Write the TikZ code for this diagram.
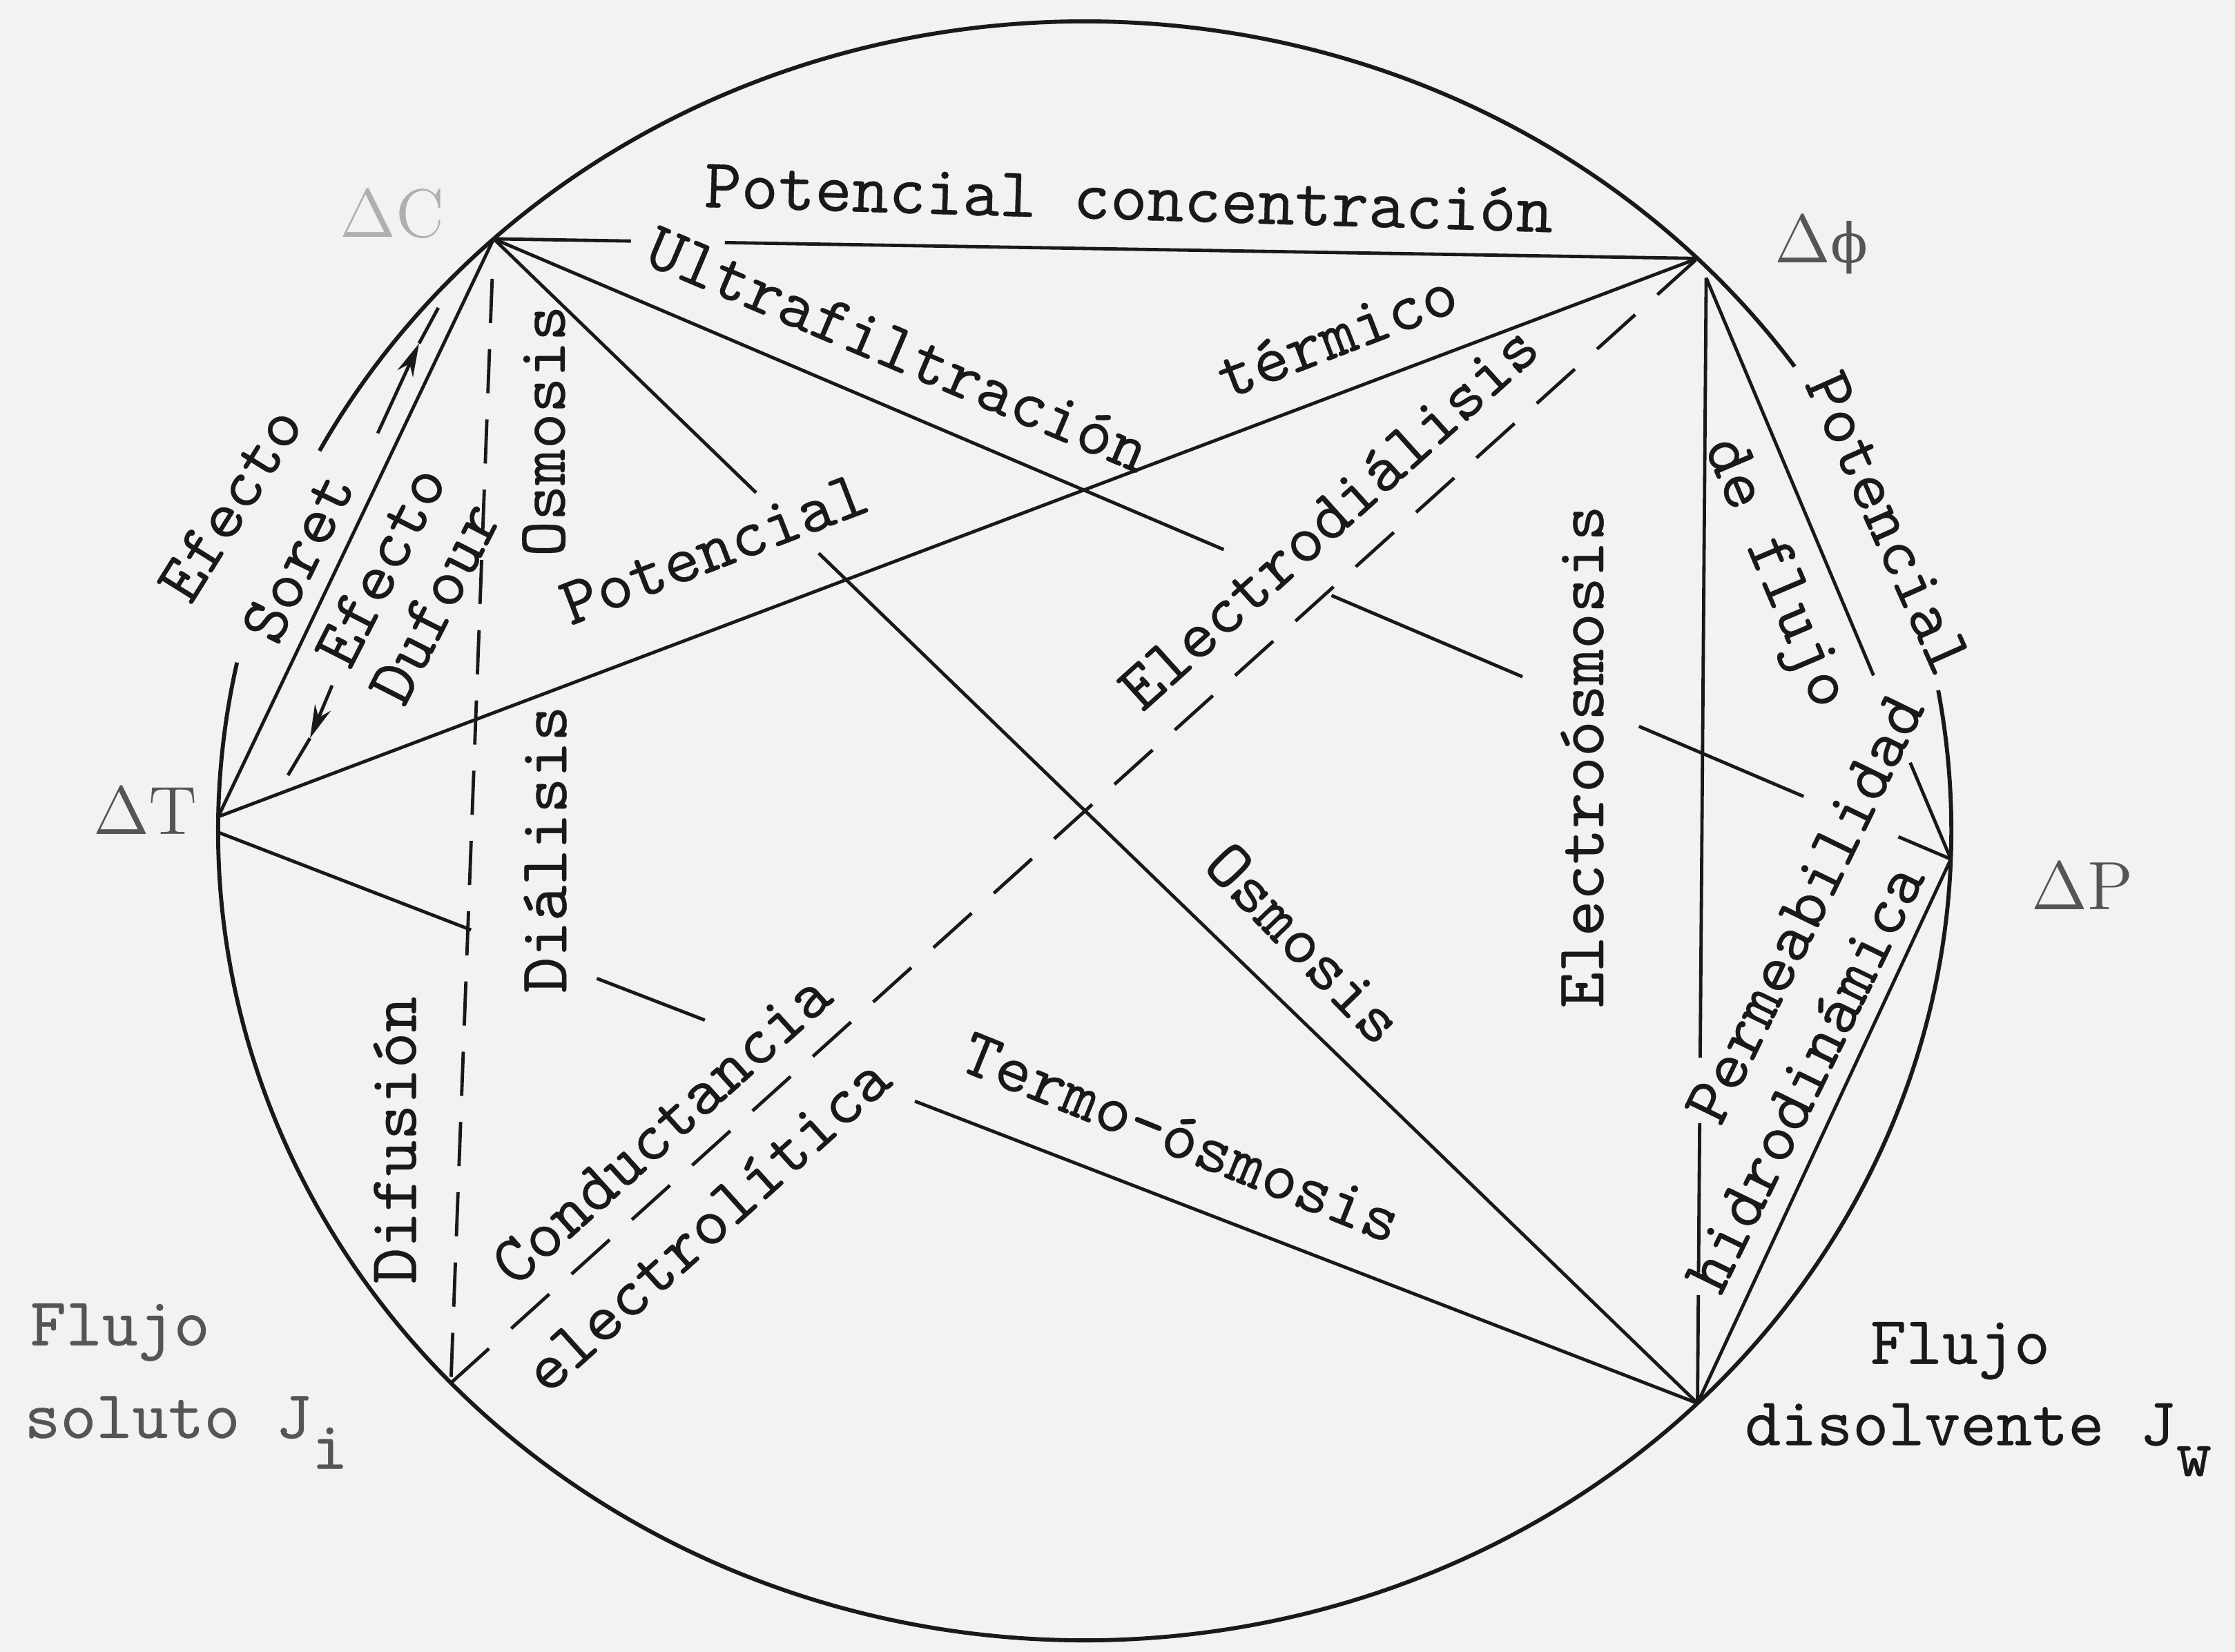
\documentclass[tikz,border=0pt]{standalone}
\usepackage{fontspec}
\usepackage{tikz}
\usetikzlibrary{calc,arrows.meta}
\newfontfamily\typew{lmmono10-regular.otf}[FakeBold=0.35]
\newfontfamily\grk{DejaVu Serif}
\definecolor{paper}{RGB}{242,242,242}
\definecolor{ink}{RGB}{25,25,25}
\definecolor{faded}{RGB}{85,85,85}
\definecolor{pale}{RGB}{175,175,175}

\begin{document}
\begin{tikzpicture}[x=0.3pt,y=0.3pt,yscale=-1,xscale=1,color=ink,line width=0.7pt,
  lbl/.style={inner sep=0pt,font=\fontsize{14.4}{16}\typew},
  vtx/.style={inner sep=0pt,text=faded,font=\fontsize{14.4}{16}\selectfont},
  dashv/.style={dash pattern=on 9.3pt off 5.5pt},
  dashd/.style={dash pattern=on 10.8pt off 6.3pt},
  tip/.style={-{Stealth[length=7pt,width=3.6pt]}}]

% paper
\fill[paper] (0,0) rectangle (1568,1159);
\useasboundingbox (0,0) rectangle (1568,1159);

% corners on the ring
\coordinate (O) at (761,583);
\coordinate (C) at ($(O)+(227:608 and 568)$);
\coordinate (F) at ($(O)+(315:608 and 568)$);
\coordinate (P) at ($(O)+(362:608 and 568)$);
\coordinate (W) at ($(O)+(45:608 and 568)$);
\coordinate (J) at ($(O)+(137:608 and 568)$);
\coordinate (T) at ($(O)+(181:608 and 568)$);
\coordinate (Tb) at (153,584);
\coordinate (Fb) at (1197,195);

%Curve Lines
\begin{scope}[line width=0.85pt]
\draw (C) arc[start angle=227,end angle=315,x radius=608,y radius=568];
\draw (F) arc[start angle=315,end angle=325,x radius=608,y radius=568];
\draw (P) arc[start angle=362,end angle=350,x radius=608,y radius=568];
\draw (P) arc[start angle=2,end angle=45,x radius=608,y radius=568];
\draw (W) arc[start angle=45,end angle=137,x radius=608,y radius=568];
\draw (J) arc[start angle=137,end angle=181,x radius=608,y radius=568];
\draw (T) arc[start angle=181,end angle=192,x radius=608,y radius=568];
\draw (C) arc[start angle=227,end angle=208,x radius=608,y radius=568];
\end{scope}

%Straight Lines
\foreach \a/\b in {0/.114,.192/1} \draw ($(C)!\a!(F)$) -- ($(C)!\b!(F)$);
\draw (C) -- (T);
\draw (T) -- (F);
\foreach \a/\b in {0/.501,.575/.706,.786/.899,.964/1} \draw ($(C)!\a!(P)$) -- ($(C)!\b!(P)$);
\foreach \a/\b in {0/.218,.27/1} \draw ($(C)!\a!(W)$) -- ($(C)!\b!(W)$);
\foreach \a/\b in {0/.171,.256/.329,.471/1} \draw ($(Tb)!\a!(W)$) -- ($(Tb)!\b!(W)$);
\foreach \a/\b in {0/.693,.751/.884,.904/1} \draw ($(Fb)!\a!(W)$) -- ($(Fb)!\b!(W)$);
\foreach \a/\b in {0/.684,.834/1} \draw ($(Fb)!\a!(P)$) -- ($(Fb)!\b!(P)$);
\draw (P) -- (W);

%Dashed Lines
\draw[dashv] ($(C)!.035!(J)$) -- (J);
\draw[dashd] (J) -- (F);

%Arrows
\coordinate (u1) at (265,304);
\coordinate (u2) at (294,241);
\coordinate (u3) at (307.5,216);
\draw[tip] (u1) -- (u2);
\draw (u2) -- (u3);
\coordinate (d1) at (233,481);
\coordinate (d2) at (217.5,518);
\coordinate (d3) at (202,544);
\draw[tip] (d1) -- (d2);
\draw (d2) -- (d3);

% Text Node
\node[lbl,font=\fontsize{14.8}{17}\typew,rotate=-1.7] (potconc) at (792,139) {Potencial concentración};
% Text Node
\node[lbl,rotate=-23] (ultra) at (630,245) {Ultrafiltración};
% Text Node
\node[lbl,rotate=21] (termico) at (938,235) {térmico};
% Text Node
\node[lbl,rotate=21] (pottherm) at (501,385) {Potencial};
% Text Node
\node[lbl,rotate=90] (osmup) at (381.5,302.5) {Osmosis};
% Text Node
\node[lbl,rotate=58] (efsoret) at (161.5,353.5) {Efecto};
% Text Node
\node[lbl,rotate=64] (soret) at (209,391) {Soret};
% Text Node
\node[lbl,rotate=63] (efdufour) at (267,397) {Efecto};
% Text Node
\node[lbl,rotate=63] (dufour) at (305,423) {Dufour};
% Text Node
\node[lbl,rotate=90] (dialisis) at (382.5,596) {Diálisis};
% Text Node
\node[lbl,rotate=90] (difusion) at (277,800) {Difusión};
% Text Node
\node[lbl,rotate=42] (conduct) at (464,792) {Conductancia};
% Text Node
\node[lbl,rotate=42] (electrolit) at (496,859) {electrolítica};
% Text Node
\node[lbl,rotate=42] (electrodial) at (932,363) {Electrodiálisis};
% Text Node
\node[lbl,rotate=-46] (osmdown) at (915,662) {Osmosis};
% Text Node
\node[lbl,rotate=-22] (termoosm) at (829,798) {Termo-ósmosis};
% Text Node
\node[lbl,rotate=90] (electroosm) at (1110,531) {Electroósmosis};
% Text Node
\node[lbl,rotate=-67] (deflujo) at (1243.5,403) {de flujo};
% Text Node
\node[lbl,rotate=-66] (potflujo) at (1325,367) {Potencial};
% Text Node
\node[lbl,rotate=64] (permea) at (1266,637.5) {Permeabilidad};
% Text Node
\node[lbl,rotate=64] (hidro) at (1266,756) {hidrodinámica};

% Text Node
\node[vtx,text=pale] (lC) at (275,150) {$\Delta$C};
% Text Node
\node[vtx] (lF) at (1278,172) {$\Delta${\grk\fontsize{11.5}{13}\selectfont ϕ}};
% Text Node
\node[vtx] (lT) at (102,569) {$\Delta$T};
% Text Node
\node[vtx] (lP) at (1461,622) {$\Delta$P};

% Text Node
\node[lbl,text=faded,anchor=base west] (fluji) at (20,944) {Flujo};
% Text Node
\node[lbl,text=faded,anchor=base west] (soluto) at (16,1009) {soluto J\raisebox{-.45em}{i}};
% Text Node
\node[lbl,anchor=base west] (flujw) at (1311,957) {Flujo};
% Text Node
\node[lbl,anchor=base west] (disolv) at (1223,1014) {disolvente J\raisebox{-.45em}{w}};

\end{tikzpicture}
\end{document}
